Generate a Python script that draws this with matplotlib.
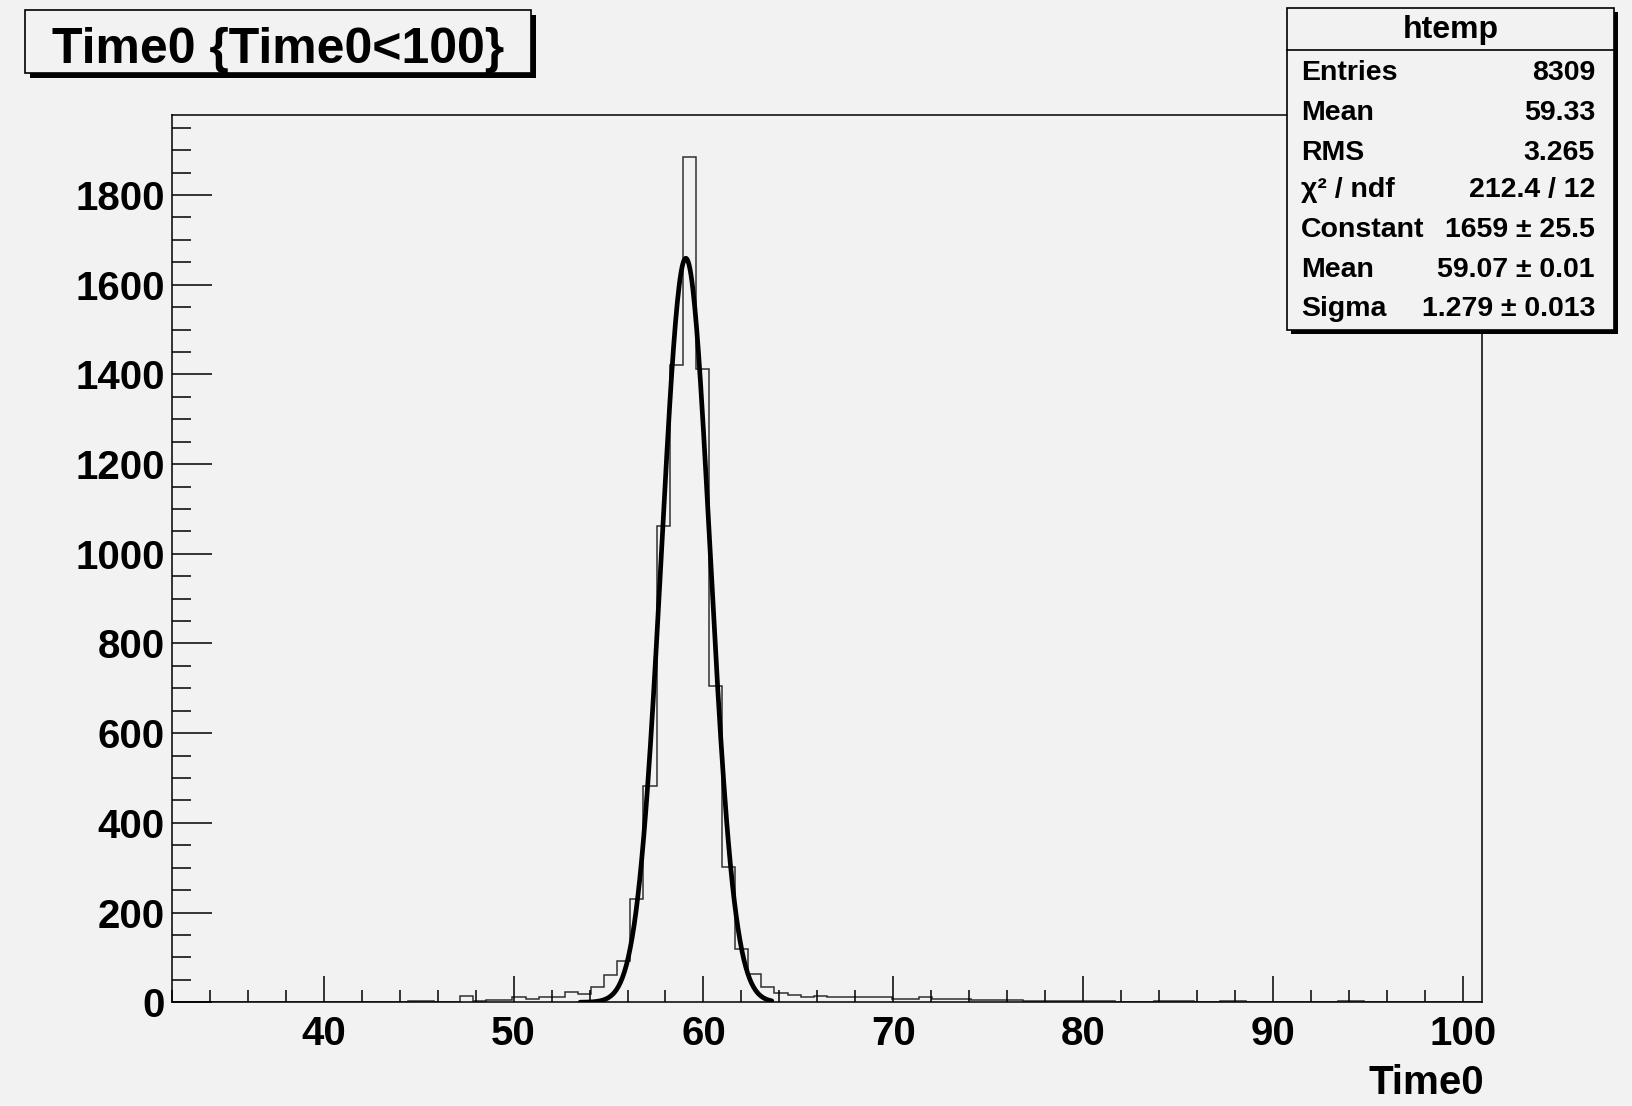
import numpy as np
import matplotlib
matplotlib.use("Agg")
import matplotlib.pyplot as plt
from matplotlib.patches import Rectangle
from matplotlib.lines import Line2D
from matplotlib.ticker import MultipleLocator

# ---------------- data ----------------
x_min, x_max, n_bins = 32.0, 101.0, 100
counts = [
    0, 0, 0, 0, 0, 0, 0, 0, 0, 0,          # 0-9
    0, 0, 0, 0, 0, 1, 0, 1, 2, 2,          # 10-19
    1, 1, 15, 2, 6, 6, 11, 8, 11, 12,      # 20-29
    22, 18, 35, 61, 92, 231, 483, 1061, 1421, 1885,   # 30-39
    1412, 706, 301, 119, 62, 35, 21, 16, 12, 15,      # 40-49
    11, 11, 12, 12, 12, 7, 7, 12, 8, 8,    # 50-59
    8, 6, 6, 6, 5, 2, 2, 2, 4, 4,          # 60-69
    4, 2, 1, 1, 1, 2, 3, 2, 1, 1,          # 70-79
    3, 3, 1, 1, 0, 1, 0, 1, 0, 2,          # 80-89
    2, 1, 0, 1, 0, 0, 1, 0, 0, 0,          # 90-99
]
fit_constant, fit_mean, fit_sigma = 1659.0, 59.07, 1.279
fit_range = (53.5, 63.6)

title_text = "Time0 {Time0<100}"
x_label = "Time0"
stats_name = "htemp"
stats_labels = ["Entries", "Mean", "RMS", "χ² / ndf", "Constant", "Mean", "Sigma"]
stats_values = ["8309", "59.33", "3.265", "212.4 / 12", "1659 ± 25.5", "59.07 ± 0.01", "1.279 ± 0.013"]

# ---------------- figure ----------------
W, H = 1633, 1106
BG = "#f2f2f2"
FONT = "Liberation Sans"
plt.rcParams["font.family"] = [FONT, "DejaVu Sans"]
plt.rcParams["font.weight"] = "bold"

fig = plt.figure(figsize=(W / 100, H / 100), dpi=100, facecolor=BG)

def fx(px):
    return px / W

def fy(py):
    return 1 - py / H

ax_l, ax_r, ax_t, ax_b = 171.8, 1482.0, 114.6, 1002.3
ax = fig.add_axes([fx(ax_l), fy(ax_b), fx(ax_r - ax_l), (ax_b - ax_t) / H])
ax.set_facecolor(BG)

edges = np.linspace(x_min, x_max, n_bins + 1)
ax.stairs(counts, edges, color="#303030", lw=1.1, baseline=0)

xf = np.linspace(fit_range[0], fit_range[1], 200)
yf = fit_constant * np.exp(-0.5 * ((xf - fit_mean) / fit_sigma) ** 2)
ax.plot(xf, yf, color="black", lw=3.4, solid_capstyle="round", zorder=3)

ax.set_xlim(x_min, x_max)
ax.set_ylim(0, 1.05 * max(counts))

ax.xaxis.set_major_locator(MultipleLocator(10))
ax.xaxis.set_minor_locator(MultipleLocator(2))
ax.yaxis.set_major_locator(MultipleLocator(200))
ax.yaxis.set_minor_locator(MultipleLocator(50))

ax.tick_params(axis="x", which="major", direction="in", length=18.5, width=1.1,
               labelsize=29, pad=9, top=False)
ax.tick_params(axis="x", which="minor", direction="in", length=8.9, width=1.1, top=False)
ax.tick_params(axis="y", which="major", direction="in", length=28.5, width=1.1,
               labelsize=29, pad=5, right=False)
ax.tick_params(axis="y", which="minor", direction="in", length=13.7, width=1.1, right=False)
for lab in ax.get_xticklabels() + ax.get_yticklabels():
    lab.set_fontweight("bold")
    lab.set_family([FONT, "DejaVu Sans"])
for sp in ax.spines.values():
    sp.set_linewidth(1.1)
    sp.set_color("black")

# x axis title
fig.text(fx(1484), fy(1094), x_label, ha="right", va="baseline",
         fontsize=29, fontweight="bold")

# ---------------- title box ----------------
def box(l, t, r, b, shadow, lw=1.2):
    fig.patches.append(Rectangle((fx(l + shadow), fy(b + shadow)), fx(r - l), (b - t) / H,
                                 transform=fig.transFigure, facecolor="black",
                                 edgecolor="black", lw=0, zorder=5))
    fig.patches.append(Rectangle((fx(l), fy(b)), fx(r - l), (b - t) / H,
                                 transform=fig.transFigure, facecolor=BG,
                                 edgecolor="black", lw=lw, zorder=6))

box(25, 10.4, 531, 73, 5)
fig.text(fx(278), fy(63), title_text, ha="center", va="baseline",
         fontsize=36, fontweight="bold", zorder=7)

# ---------------- stats box ----------------
sl, st, sr, sb = 1287.3, 8.3, 1614.3, 330.0
box(sl, st, sr, sb, 4)
fig.lines.append(Line2D([fx(sl), fx(sr)], [fy(50), fy(50)], transform=fig.transFigure,
                        color="black", lw=1.2, zorder=7))
fig.text(fx((sl + sr) / 2), fy(38.3), stats_name, ha="center", va="baseline",
         fontsize=23, fontweight="bold", zorder=7)
baselines = [80, 120, 160, 197, 237, 277, 316]
for lab, val, yb in zip(stats_labels, stats_values, baselines):
    fig.text(fx(1300.7), fy(yb), lab, ha="left", va="baseline",
             fontsize=20.5, fontweight="bold", zorder=7)
    fig.text(fx(1595), fy(yb), val, ha="right", va="baseline",
             fontsize=20.5, fontweight="bold", zorder=7)

fig.savefig("out.png", dpi=100, facecolor=BG)
